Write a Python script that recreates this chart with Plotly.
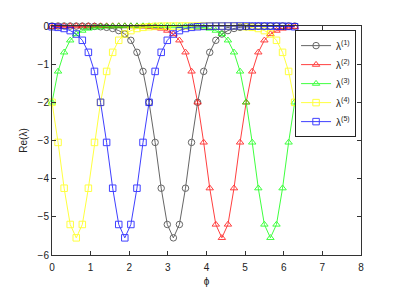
import plotly.graph_objects as go

phi = [0.000, 0.157, 0.314, 0.471, 0.628, 0.785, 0.942, 1.100, 1.257, 1.414,
       1.571, 1.728, 1.885, 2.042, 2.199, 2.356, 2.513, 2.670, 2.827, 2.985,
       3.142, 3.299, 3.456, 3.613, 3.770, 3.927, 4.084, 4.241, 4.398, 4.555,
       4.712, 4.869, 5.027, 5.184, 5.341, 5.498, 5.655, 5.812, 5.969, 6.126,
       6.283]

lam1 = [0, 0, 0, -0.001, -0.002, -0.003, -0.005, -0.01, -0.02, -0.035,
        -0.065, -0.12, -0.21, -0.375, -0.69, -1.19, -2.00, -3.05, -4.25, -5.20,
        -5.55, -5.20, -4.25, -3.05, -2.00, -1.19, -0.69, -0.375, -0.21, -0.12,
        -0.065, -0.035, -0.02, -0.01, -0.005, -0.003, -0.002, -0.001, 0, 0, 0]

lam2 = [-0.02, -0.01, -0.005, -0.003, -0.002, -0.001, 0, 0, 0,
        0, 0, -0.001, -0.002, -0.003, -0.005, -0.01, -0.02, -0.035, -0.065,
        -0.12, -0.21, -0.375, -0.69, -1.19, -2.00, -3.05, -4.25, -5.20, -5.55,
        -5.20, -4.25, -3.05, -2.00, -1.19, -0.69, -0.375, -0.21, -0.12, -0.065,
        -0.035, -0.02]

lam3 = [-2.00, -1.19, -0.69, -0.375, -0.21, -0.12, -0.065, -0.035, -0.02,
        -0.01, -0.005, -0.003, -0.002, -0.001, 0, 0, 0,
        0, 0, -0.001, -0.002, -0.003, -0.005, -0.01, -0.02, -0.035, -0.065,
        -0.12, -0.21, -0.375, -0.69, -1.19, -2.00, -3.05, -4.25, -5.20, -5.55,
        -5.20, -4.25, -3.05, -2.00]

lam4 = [-2.00, -3.05, -4.25, -5.20,
        -5.55, -5.20, -4.25, -3.05, -2.00, -1.19, -0.69, -0.375, -0.21, -0.12,
        -0.065, -0.035, -0.02, -0.01, -0.005, -0.003, -0.002, -0.001, 0, 0, 0,
        0, 0, -0.001, -0.002, -0.003, -0.005, -0.01, -0.02, -0.035, -0.065,
        -0.12, -0.21, -0.375, -0.69, -1.19, -2.00]

lam5 = [-0.02, -0.035, -0.065, -0.12, -0.21, -0.375, -0.69, -1.19, -2.00,
        -3.05, -4.25, -5.20,
        -5.55, -5.20, -4.25, -3.05, -2.00, -1.19, -0.69, -0.375, -0.21, -0.12,
        -0.065, -0.035, -0.02, -0.01, -0.005, -0.003, -0.002, -0.001, 0, 0, 0,
        0, 0, -0.001, -0.002, -0.003, -0.005, -0.01, -0.02]

names = ["λ<sup>(1)</sup>", "λ<sup>(2)</sup>", "λ<sup>(3)</sup>",
         "λ<sup>(4)</sup>", "λ<sup>(5)</sup>"]
series = [lam1, lam2, lam3, lam4, lam5]
colors = ["#333333", "#ff0000", "#00ff00", "#ffff00", "#0000ff"]
symbols = ["circle-open", "triangle-up-open", "triangle-up-open",
           "square-open", "square-open"]

xticks = [0, 1, 2, 3, 4, 5, 6, 7, 8]
yticks = [0, -1, -2, -3, -4, -5, -6]

fig = go.Figure()
for ys, nm, c, s in zip(series, names, colors, symbols):
    fig.add_trace(go.Scatter(
        x=phi, y=ys, name=nm, mode="lines+markers",
        line=dict(color=c, width=1),
        marker=dict(symbol=s, size=6.5, color=c, line=dict(width=1, color=c)),
        opacity=0.75, cliponaxis=False,
    ))

axis_common = dict(
    showgrid=False, zeroline=False, showline=True, linecolor="#333",
    linewidth=1, mirror="ticks", ticks="inside", ticklen=4,
    tickcolor="#333", tickfont=dict(size=10, color="#222"),
)

fig.update_layout(
    width=391, height=289,
    margin=dict(l=44, r=38, t=14, b=33),
    paper_bgcolor="white", plot_bgcolor="white",
    font=dict(family="Liberation Sans, Arial, sans-serif", size=10, color="#222"),
    xaxis=dict(range=[0, 8], tickvals=xticks, ticklabelstandoff=3,
               title=dict(text="ϕ", standoff=5, font=dict(size=10)),
               **axis_common),
    yaxis=dict(range=[-6, 0], tickvals=yticks,
               ticktext=["0" if v == 0 else "\u2212" + str(-v) for v in yticks],
               title=dict(text="Re(λ)", standoff=8, font=dict(size=10)),
               **axis_common),
    legend=dict(x=0.984, y=0.982, xanchor="right", yanchor="top",
                bordercolor="#222", borderwidth=1, bgcolor="white",
                font=dict(size=10), tracegroupgap=0, itemwidth=30),
    showlegend=True,
)

fig.write_html("out.html")
